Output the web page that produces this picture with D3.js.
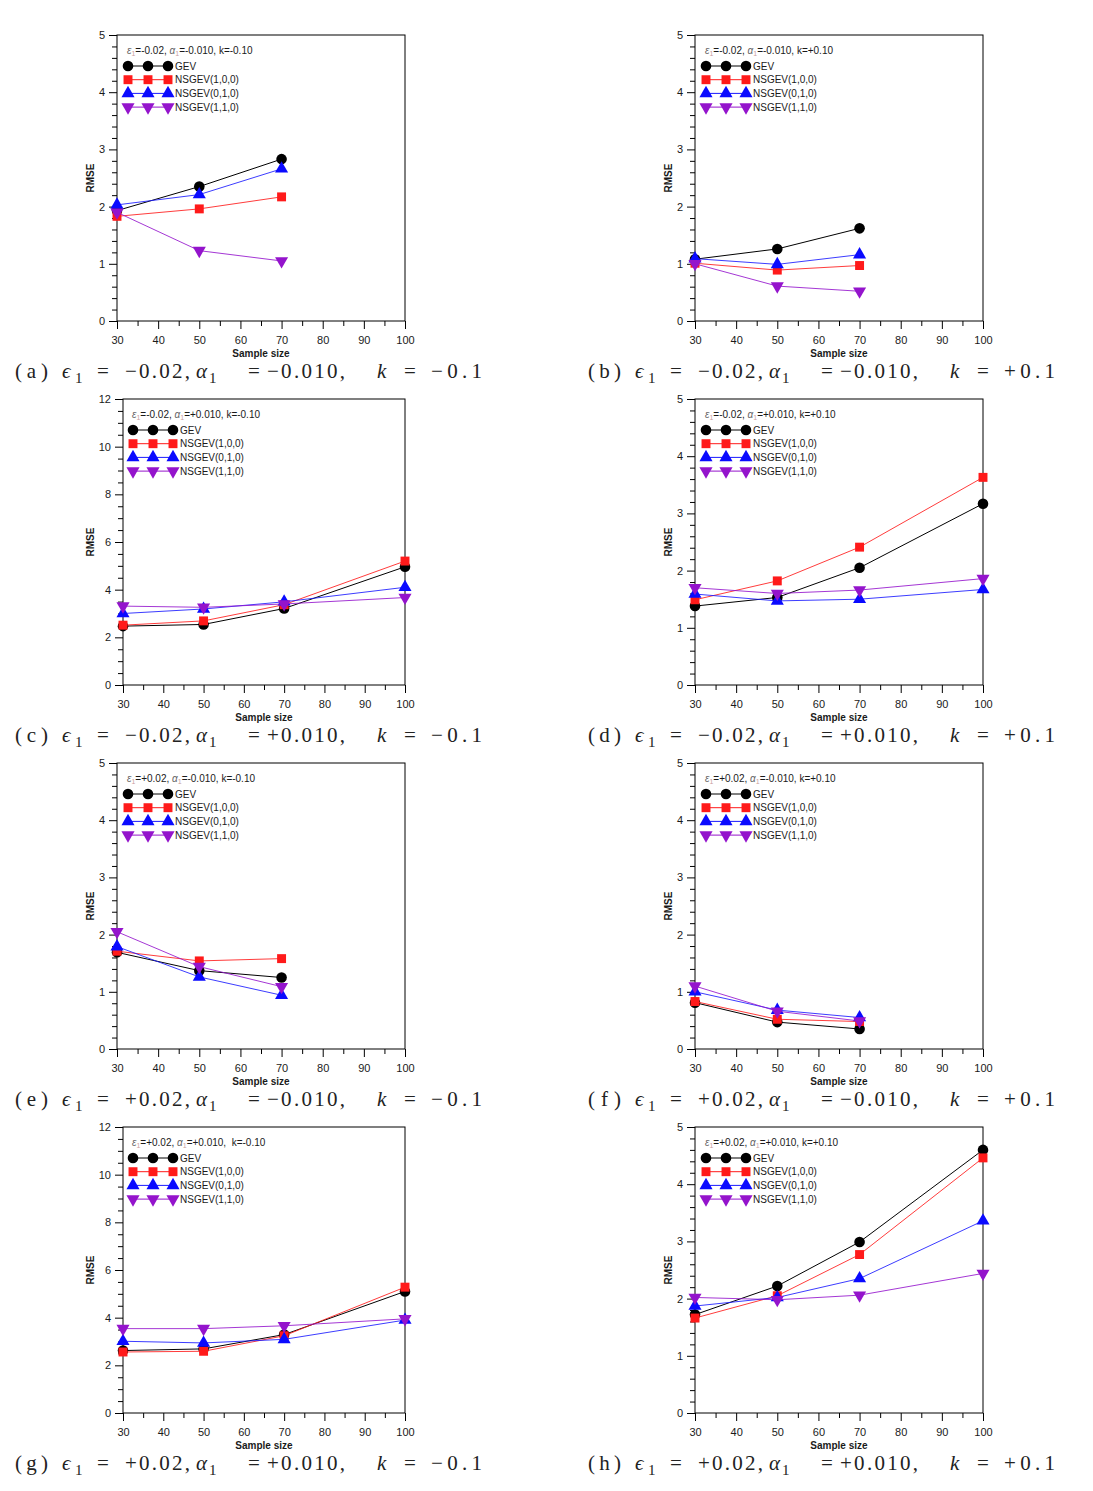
<!DOCTYPE html>
<html><head><meta charset="utf-8">
<script src="https://cdn.jsdelivr.net/npm/d3@7"></script>
<style>
body{margin:0;background:#fff;}
svg{display:block;}
</style></head>
<body>
<svg id="chart" width="1093" height="1491"></svg>
<script>
// ---------- DATA ----------
const seriesNames = ["GEV", "NSGEV(1,0,0)", "NSGEV(0,1,0)", "NSGEV(1,1,0)"];
const sizes3 = [30, 50, 70];
const sizes4 = [30, 50, 70, 100];
const xTicks = [30, 40, 50, 60, 70, 80, 90, 100];

// (a) eps=-0.02, alpha=-0.010, k=-0.1
const a_GEV = [1.93, 2.35, 2.83];
const a_N100 = [1.83, 1.96, 2.17];
const a_N010 = [2.03, 2.21, 2.66];
const a_N110 = [1.90, 1.23, 1.05];
// (b) eps=-0.02, alpha=-0.010, k=+0.1
const b_GEV = [1.08, 1.26, 1.62];
const b_N100 = [1.01, 0.89, 0.97];
const b_N010 = [1.09, 0.99, 1.16];
const b_N110 = [1.00, 0.61, 0.52];
// (c) eps=-0.02, alpha=+0.010, k=-0.1
const c_GEV = [2.47, 2.54, 3.21, 4.96];
const c_N100 = [2.51, 2.69, 3.37, 5.20];
const c_N010 = [3.00, 3.19, 3.49, 4.10];
const c_N110 = [3.31, 3.26, 3.40, 3.67];
// (d) eps=-0.02, alpha=+0.010, k=+0.1
const d_GEV = [1.38, 1.53, 2.05, 3.17];
const d_N100 = [1.49, 1.82, 2.41, 3.63];
const d_N010 = [1.59, 1.47, 1.50, 1.67];
const d_N110 = [1.70, 1.60, 1.66, 1.86];
// (e) eps=+0.02, alpha=-0.010, k=-0.1
const e_GEV = [1.69, 1.37, 1.25];
const e_N100 = [1.71, 1.54, 1.58];
const e_N010 = [1.79, 1.26, 0.94];
const e_N110 = [2.05, 1.44, 1.09];
// (f) eps=+0.02, alpha=-0.010, k=+0.1
const f_GEV = [0.81, 0.47, 0.35];
const f_N100 = [0.83, 0.52, 0.48];
const f_N010 = [1.00, 0.68, 0.55];
const f_N110 = [1.10, 0.66, 0.49];
// (g) eps=+0.02, alpha=+0.010, k=-0.1
const g_GEV = [2.62, 2.69, 3.29, 5.10];
const g_N100 = [2.56, 2.59, 3.24, 5.28];
const g_N010 = [3.01, 2.94, 3.09, 3.90];
const g_N110 = [3.54, 3.54, 3.66, 3.95];
// (h) eps=+0.02, alpha=+0.010, k=+0.1
const h_GEV = [1.72, 2.22, 2.99, 4.60];
const h_N100 = [1.66, 2.05, 2.77, 4.46];
const h_N010 = [1.87, 2.02, 2.35, 3.36];
const h_N110 = [2.02, 1.98, 2.06, 2.44];

// panel parameter labels
const panelLetters = ["a", "b", "c", "d", "e", "f", "g", "h"];
const epsLabels = ["-0.02", "-0.02", "-0.02", "-0.02", "+0.02", "+0.02", "+0.02", "+0.02"];
const alphaLabels = ["-0.010", "-0.010", "+0.010", "+0.010", "-0.010", "-0.010", "+0.010", "+0.010"];
const kLabels = ["-0.10", "+0.10", "-0.10", "+0.10", "-0.10", "+0.10", "-0.10", "+0.10"];
const kCaption = ["-0.1", "+0.1", "-0.1", "+0.1", "-0.1", "+0.1", "-0.1", "+0.1"];
const yMaxes = [5, 5, 12, 5, 5, 5, 12, 5];

const panelSizes = [sizes3, sizes3, sizes4, sizes4, sizes3, sizes3, sizes4, sizes4];
const panelValues = [
  [a_GEV, a_N100, a_N010, a_N110],
  [b_GEV, b_N100, b_N010, b_N110],
  [c_GEV, c_N100, c_N010, c_N110],
  [d_GEV, d_N100, d_N010, d_N110],
  [e_GEV, e_N100, e_N010, e_N110],
  [f_GEV, f_N100, f_N010, f_N110],
  [g_GEV, g_N100, g_N010, g_N110],
  [h_GEV, h_N100, h_N010, h_N110]
];

// ---------- STYLE ----------
const lineColors = ["#000000", "#ff1a1a", "#1a1aff", "#9414cc"];
const markerColors = ["#000000", "#ff1a1a", "#0a0aff", "#9414cc"];
const symbolTypes = [d3.symbolCircle, d3.symbolSquare, d3.symbolTriangle, d3.symbolTriangle];
const symbolSizes = [88, 80, 74, 74];
const symbolRot = [0, 0, 0, 180];

const svg = d3.select("#chart");
svg.append("rect").attr("width", 1093).attr("height", 1491).attr("fill", "#fff");

const colLeft = [117, 695];
const colRight = [405, 983];
const rowTop = [35, 399, 763, 1127];
const plotH = 286;
const sansFont = "'Liberation Sans', Arial, sans-serif";
const serifFont = "'Liberation Serif', 'DejaVu Serif', serif";

function fmtMinus(s) { return s.replace("-", "\u2212"); }

panelLetters.forEach((letter, i) => {
  const col = i % 2, row = Math.floor(i / 2);
  const yMax = yMaxes[i];
  const left = colLeft[col] + (yMax > 9 ? 6 : 0);
  const right = colRight[col];
  const top = rowTop[row];
  const bottom = top + plotH;

  const x = d3.scaleLinear().domain([30, 100]).range([left, right]);
  const y = d3.scaleLinear().domain([0, yMax]).range([bottom, top]);
  const g = svg.append("g");

  const yMinorStep = yMax > 9 ? 0.5 : 0.2;
  const yMajorStep = yMax > 9 ? 2 : 1;
  const yMinor = d3.range(0, yMax + 1e-9, yMinorStep).filter(v => Math.abs(v / yMajorStep - Math.round(v / yMajorStep)) > 1e-6);
  const xMinor = d3.range(35, 100, 10);

  const yAxisMinor = d3.axisLeft(y).tickValues(yMinor).tickSize(5).tickFormat("");
  const yAxisMajor = d3.axisLeft(y).tickValues(d3.range(0, yMax + 1e-9, yMajorStep)).tickSize(8).tickPadding(4).tickFormat(d3.format("d"));
  const xAxisMinor = d3.axisBottom(x).tickValues(xMinor).tickSize(5).tickFormat("");
  const xAxisMajor = d3.axisBottom(x).tickValues(xTicks).tickSize(8).tickPadding(7).tickFormat(d3.format("d"));

  [[yAxisMinor, "y"], [yAxisMajor, "y"], [xAxisMinor, "x"], [xAxisMajor, "x"]].forEach(([ax, t]) => {
    const ga = g.append("g")
      .attr("transform", t === "y" ? `translate(${left},0)` : `translate(0,${bottom})`)
      .call(ax);
    ga.select(".domain").remove();
    ga.selectAll("line").attr("stroke", "#000").attr("stroke-width", 1);
    ga.selectAll("text").attr("font-family", sansFont).attr("font-size", 11).attr("fill", "#1a1a1a");
  });

  g.append("rect").attr("x", left).attr("y", top).attr("width", right - left).attr("height", plotH)
    .attr("fill", "none").attr("stroke", "#000").attr("stroke-width", 1);

  g.append("text").attr("x", (left + right) / 2).attr("y", bottom + 36)
    .attr("text-anchor", "middle").attr("font-family", sansFont).attr("font-size", 10)
    .attr("font-weight", "bold").attr("fill", "#1a1a1a").text("Sample size");
  const rmX = colLeft[col] - 27, rmY = (top + bottom) / 2;
  g.append("text").attr("transform", `translate(${rmX},${rmY}) rotate(-90)`)
    .attr("text-anchor", "middle").attr("dominant-baseline", "central")
    .attr("font-family", sansFont).attr("font-size", 10).attr("font-weight", "bold")
    .attr("fill", "#1a1a1a").text("RMSE");

  const sz = panelSizes[i];
  panelValues[i].forEach((vals, s) => {
    const pts = sz.map((n, j) => [n, vals[j]]);
    g.append("path")
      .attr("d", d3.line().x(d => x(d[0])).y(d => y(d[1]))(pts))
      .attr("fill", "none").attr("stroke", lineColors[s]).attr("stroke-width", 1)
      .attr("stroke-opacity", s === 0 ? 1 : 0.85);
    g.selectAll(null).data(pts).enter().append("path")
      .attr("d", d3.symbol().type(symbolTypes[s]).size(symbolSizes[s]))
      .attr("transform", d => `translate(${x(d[0])},${y(d[1])}) rotate(${symbolRot[s]})`)
      .attr("fill", markerColors[s]);
  });

  // legend
  const lx = colLeft[col] + 11 + (yMax > 9 ? 5 : 0);
  const titleY = top + 19;
  const tt = g.append("text").attr("x", lx - 1).attr("y", titleY)
    .attr("font-family", sansFont).attr("font-size", 10).attr("fill", "#1a1a1a")
    .attr("xml:space", "preserve");
  tt.append("tspan").attr("fill", "#666").attr("font-style", "italic").text("\u03b5");
  tt.append("tspan").attr("font-size", 7).attr("dy", 2).attr("fill", "#c9a0a0").text("1");
  tt.append("tspan").attr("dy", -2).text("=" + epsLabels[i] + ", ");
  tt.append("tspan").attr("fill", "#666").attr("font-style", "italic").text("\u03b1");
  tt.append("tspan").attr("font-size", 7).attr("dy", 2).attr("fill", "#c9a0a0").text("1");
  tt.append("tspan").attr("dy", -2).text("=" + alphaLabels[i] + "," + (letter === "g" ? "  " : " ") + "k=" + kLabels[i]);

  seriesNames.forEach((name, s) => {
    const ly = top + 31 + s * 13.7;
    g.append("line").attr("x1", lx).attr("x2", lx + 40).attr("y1", ly).attr("y2", ly)
      .attr("stroke", lineColors[s]).attr("stroke-width", 1);
    [0, 20, 40].forEach(dx => {
      g.append("path").attr("d", d3.symbol().type(symbolTypes[s]).size(symbolSizes[s])())
        .attr("transform", `translate(${lx + dx},${ly}) rotate(${symbolRot[s]})`)
        .attr("fill", markerColors[s]);
    });
    g.append("text").attr("x", lx + 47).attr("y", ly).attr("dominant-baseline", "central")
      .attr("font-family", sansFont).attr("font-size", 10).attr("fill", "#1a1a1a").text(name);
  });

  // caption: segments placed relative to caption start
  const cx = col === 0 ? 15 : 588;
  const cy = top + 343;
  const cap = svg.append("g").attr("font-family", serifFont).attr("font-size", 21).attr("fill", "#222");
  const seg = (dx, txt, opts = {}) => {
    const t = cap.append("text").attr("x", cx + dx).attr("y", cy + (opts.sub ? 5 : 0)).text(txt);
    if (opts.italic) t.attr("font-style", "italic");
    if (opts.sub) t.attr("font-size", 15);
    if (opts.w) t.attr("textLength", opts.w).attr("lengthAdjust", "spacing");
    return t;
  };
  seg(0, "(" + letter + ")", { w: 33 });
  seg(47, "\u03f5", { italic: true });
  seg(60, "1", { sub: true });
  seg(82, "=");
  seg(110, fmtMinus(epsLabels[i]) + ",", { w: 65 });
  seg(181, "\u03b1", { italic: true });
  seg(194, "1", { sub: true });
  seg(233, "=");
  seg(252, fmtMinus(alphaLabels[i]) + ",", { w: 78 });
  seg(362, "k", { italic: true });
  seg(389, "=");
  seg(416, fmtMinus(kCaption[i]), { w: 51 });
});
</script>
</body></html>
